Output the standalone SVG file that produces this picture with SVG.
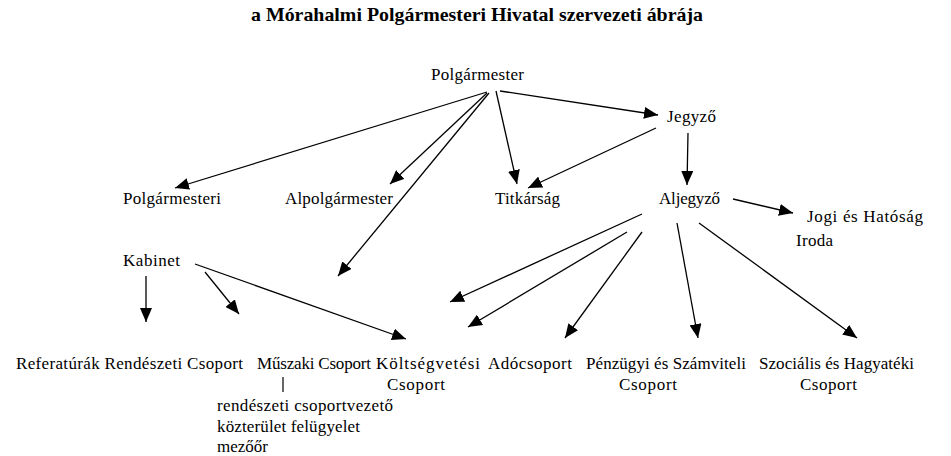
<svg xmlns="http://www.w3.org/2000/svg" width="951" height="456" viewBox="0 0 951 456">
<style>
text{font-family:"Liberation Serif","Times New Roman",serif;font-size:17px;fill:#000}
.t{font-weight:bold;font-size:19px}
.c line{stroke:#000;stroke-width:1.3}
</style>
<defs>
<marker id="a" markerUnits="userSpaceOnUse" markerWidth="14" markerHeight="12" refX="14" refY="6" orient="auto"><path d="M0,0L14,6L0,12z" fill="#000"/></marker>
</defs>
<rect width="951" height="456" fill="#fff"/>
<text class="t" x="251" y="21" textLength="452" lengthAdjust="spacingAndGlyphs">a Mórahalmi Polgármesteri Hivatal szervezeti ábrája</text>
<g class="c">
<line x1="487" y1="92" x2="175" y2="188" marker-end="url(#a)"/>
<line x1="487" y1="93" x2="390" y2="184" marker-end="url(#a)"/>
<line x1="489" y1="93" x2="338" y2="276" marker-end="url(#a)"/>
<line x1="496" y1="91" x2="517" y2="184" marker-end="url(#a)"/>
<line x1="500" y1="91" x2="658" y2="115" marker-end="url(#a)"/>
<line x1="656" y1="128" x2="528" y2="188" marker-end="url(#a)"/>
<line x1="688" y1="133" x2="687" y2="185" marker-end="url(#a)"/>
<line x1="733" y1="199" x2="793" y2="213" marker-end="url(#a)"/>
<line x1="642" y1="214" x2="450" y2="302" marker-end="url(#a)"/>
<line x1="627" y1="232" x2="468" y2="327" marker-end="url(#a)"/>
<line x1="642" y1="232" x2="565" y2="338" marker-end="url(#a)"/>
<line x1="677" y1="223" x2="698" y2="338" marker-end="url(#a)"/>
<line x1="699" y1="223" x2="857" y2="338" marker-end="url(#a)"/>
<line x1="146" y1="276" x2="146" y2="322" marker-end="url(#a)"/>
<line x1="205" y1="272" x2="239" y2="314" marker-end="url(#a)"/>
<line x1="195" y1="264" x2="406" y2="339" marker-end="url(#a)"/>
</g>
<g id="polgarmester"><text x="431" y="80" textLength="93">Polgármester</text></g>
<g id="jegyzo"><text x="667" y="122" textLength="49">Jegyző</text></g>
<g id="polgarmesteri-kabinet"><text x="123" y="204" textLength="98">Polgármesteri</text><text x="123" y="266" textLength="57">Kabinet</text></g>
<g id="alpolgarmester"><text x="285" y="204" textLength="108">Alpolgármester</text></g>
<g id="titkarsag"><text x="495" y="204" textLength="65">Titkárság</text></g>
<g id="aljegyzo"><text x="659" y="204" textLength="61">Aljegyző</text></g>
<g id="jogi"><text x="807" y="222" textLength="116">Jogi és Hatóság</text><text x="796" y="246" textLength="37">Iroda</text></g>
<g id="referaturak"><text x="16" y="369" textLength="227">Referatúrák Rendészeti Csoport</text></g>
<g id="muszaki"><text x="257" y="369" textLength="114">Műszaki Csoport</text><line x1="283" y1="377" x2="283" y2="392" stroke="#000" stroke-width="1.2"/><text x="217" y="411" textLength="176">rendészeti csoportvezető</text><text x="217" y="432" textLength="143">közterület felügyelet</text><text x="217" y="452">mezőőr</text></g>
<g id="koltsegvetesi"><text x="376" y="369" textLength="104">Költségvetési</text><text x="387" y="390" textLength="58">Csoport</text></g>
<g id="adocsoport"><text x="488" y="369" textLength="84">Adócsoport</text></g>
<g id="penzugyi"><text x="586" y="369" textLength="160">Pénzügyi és Számviteli</text><text x="619" y="390" textLength="58">Csoport</text></g>
<g id="szocialis"><text x="759" y="369" textLength="155">Szociális és Hagyatéki</text><text x="800" y="390" textLength="57">Csoport</text></g>
</svg>
